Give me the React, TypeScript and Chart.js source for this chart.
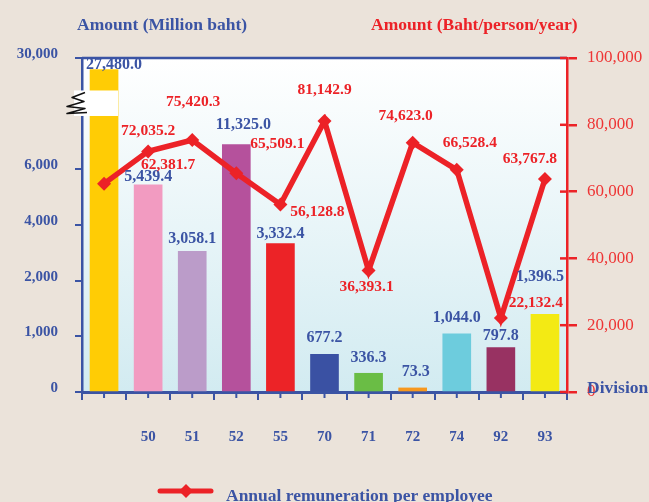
import React, { useEffect, useRef } from 'react';
import { Chart, registerables, LinearScale } from 'chart.js';

// ---------- data ----------
const CATEGORIES = ['', '50', '51', '52', '55', '70', '71', '72', '74', '92', '93'];
const AMOUNT_MILLION = [27480.0, 5439.4, 3058.1, 11325.0, 3332.4, 677.2, 336.3, 73.3, 1044.0, 797.8, 1396.5];
const REMUNERATION = [62381.7, 72035.2, 75420.3, 65509.1, 56128.8, 81142.9, 36393.1, 74623.0, 66528.4, 22132.4, 63767.8];
const LEFT_TICKS = [0, 1000, 2000, 4000, 6000, 30000];
const RIGHT_TICKS = [0, 20000, 40000, 60000, 80000, 100000];
const BREAK_RANGE = [17500, 23000];
const LEGEND_LABEL = 'Annual remuneration per employee';
const LEFT_TITLE = 'Amount (Million baht)';
const RIGHT_TITLE = 'Amount (Baht/person/year)';
const X_TITLE = 'Division';

// ---------- styles ----------
const BG = '#EBE3DA';
const BLUE = '#3B54A4';
const RED = '#EC2227';
const RED_TEXT = '#EE3535';
const FONT = "'Liberation Serif', 'Times New Roman', serif";
const BAR_COLORS = ['#FFCC05', '#F29BC1', '#BB9CC9', '#B5519C', '#EC2327', '#3A51A3', '#6ABD45', '#F7981F', '#6DCCDD', '#983262', '#F3EA14'];
// segment weights of the broken left axis (one per interval between LEFT_TICKS)
const SEGMENT_WEIGHTS = [1, 1, 1, 1, 2];
// label placement tweaks (pixels)
const BAR_LABEL_DX = [10, 0, 0, 7, 0, 0, 0, 3, 0, 0, -5];
const BAR_LABEL_GAP = [5, 8, 12, 20, 10, 16, 15, 16, 16, 12, 37];
const LINE_LABEL_OFF: [number, number][] = [
  [64, -19], [0, -20], [1, -38], [41, -29], [37, 7], [0, -31],
  [-2, 17], [-7, -27], [13, -27], [35, -15], [-15, -20],
];
const ZIGZAG: [number, number][] = [[3, 2], [-10, 7], [2, 11], [-15, 16], [3, 18], [-15, 23], [5, 22]];

class BrokenScale extends LinearScale {
  static id = 'broken';
  buildTicks() {
    (this as any).start = this.min;
    (this as any).end = this.max;
    return LEFT_TICKS.map((v) => ({ value: v }));
  }
  _frac(v: number) {
    const total = SEGMENT_WEIGHTS.reduce((a, b) => a + b, 0);
    let acc = 0;
    for (let i = 0; i < SEGMENT_WEIGHTS.length; i++) {
      const a = LEFT_TICKS[i], b = LEFT_TICKS[i + 1];
      if (v <= b || i === SEGMENT_WEIGHTS.length - 1) {
        return (acc + ((v - a) / (b - a)) * SEGMENT_WEIGHTS[i]) / total;
      }
      acc += SEGMENT_WEIGHTS[i];
    }
    return 1;
  }
  getPixelForValue(value: number) {
    if (value === null || value === undefined || isNaN(value as any)) return NaN;
    return this.getPixelForDecimal(this._frac(value));
  }
  getValueForPixel(pixel: number) {
    const d = this.getDecimalForPixel(pixel);
    const total = SEGMENT_WEIGHTS.reduce((a, b) => a + b, 0);
    let acc = 0;
    for (let i = 0; i < SEGMENT_WEIGHTS.length; i++) {
      const w = SEGMENT_WEIGHTS[i] / total;
      if (d <= acc + w || i === SEGMENT_WEIGHTS.length - 1) {
        return LEFT_TICKS[i] + ((d - acc) / w) * (LEFT_TICKS[i + 1] - LEFT_TICKS[i]);
      }
      acc += w;
    }
    return this.max;
  }
}

Chart.register(...registerables, BrokenScale);

const fmt = (v: any) => Number(v).toLocaleString('en-US');

const decor = {
  id: 'decor',
  beforeDraw(chart: any) {
    const { ctx, chartArea: a, width, height } = chart;
    ctx.save();
    ctx.fillStyle = BG;
    ctx.fillRect(0, 0, width, height);
    const g = ctx.createLinearGradient(0, a.top, 0, a.bottom);
    g.addColorStop(0, '#FFFFFF');
    g.addColorStop(1, '#D2EBF1');
    ctx.fillStyle = g;
    ctx.fillRect(a.left, a.top, a.right - a.left, a.bottom - a.top);
    ctx.restore();
  },
  afterDatasetDraw(chart: any, args: any) {
    if (args.index !== 0) return;
    const { ctx, chartArea: a } = chart;
    const y = chart.scales.y;
    const bar = chart.getDatasetMeta(0).data[0];
    const yTop = y.getPixelForValue(BREAK_RANGE[1]);
    const yBot = y.getPixelForValue(BREAK_RANGE[0]);
    ctx.save();
    ctx.fillStyle = '#FFFFFF';
    const x0 = a.left - 8;
    ctx.fillRect(x0, yTop, bar.x + bar.width / 2 - x0, yBot - yTop);
    ctx.strokeStyle = '#111111';
    ctx.lineWidth = 1.5;
    ctx.lineJoin = 'round';
    ctx.beginPath();
    ZIGZAG.forEach(([dx, dy], i) => {
      const px = a.left + dx, py = yTop + dy;
      if (i === 0) ctx.moveTo(px, py); else ctx.lineTo(px, py);
    });
    ctx.stroke();
    ctx.restore();
  },
  afterDraw(chart: any) {
    const { ctx, chartArea: a } = chart;
    const xs = chart.scales.x;
    const y1 = chart.scales.y1;
    ctx.save();
    // top border
    ctx.strokeStyle = BLUE;
    ctx.lineWidth = 2.5;
    ctx.beginPath();
    ctx.moveTo(a.left, a.top);
    ctx.lineTo(a.right, a.top);
    ctx.stroke();
    // category centre ticks
    ctx.lineWidth = 2;
    CATEGORIES.forEach((_, i) => {
      const px = xs.getPixelForValue(i);
      ctx.beginPath();
      ctx.moveTo(px, a.bottom);
      ctx.lineTo(px, a.bottom + 6);
      ctx.stroke();
    });
    // inner part of right ticks
    ctx.strokeStyle = RED;
    ctx.lineWidth = 2.5;
    y1.ticks.forEach((t: any) => {
      const py = y1.getPixelForValue(t.value);
      ctx.beginPath();
      ctx.moveTo(a.right - 7, py);
      ctx.lineTo(a.right, py);
      ctx.stroke();
    });
    // bar labels
    ctx.textAlign = 'center';
    ctx.textBaseline = 'middle';
    ctx.font = `bold 16px ${FONT}`;
    ctx.fillStyle = BLUE;
    chart.getDatasetMeta(0).data.forEach((el: any, i: number) => {
      ctx.fillText(AMOUNT_MILLION[i].toLocaleString('en-US', { minimumFractionDigits: 1, maximumFractionDigits: 1 }), el.x + BAR_LABEL_DX[i], el.y - BAR_LABEL_GAP[i]);
    });
    // line labels
    ctx.font = `bold 15.5px ${FONT}`;
    ctx.fillStyle = RED;
    chart.getDatasetMeta(1).data.forEach((el: any, i: number) => {
      const [dx, dy] = LINE_LABEL_OFF[i];
      ctx.fillText(REMUNERATION[i].toLocaleString('en-US', { minimumFractionDigits: 1, maximumFractionDigits: 1 }), el.x + dx, el.y + dy);
    });
    // titles
    ctx.textAlign = 'left';
    ctx.font = `bold 17.5px ${FONT}`;
    ctx.fillStyle = BLUE;
    ctx.fillText(LEFT_TITLE, 77, 25);
    ctx.fillStyle = RED;
    ctx.fillText(RIGHT_TITLE, 371, 25);
    ctx.fillStyle = BLUE;
    ctx.fillText(X_TITLE, a.right + 20, a.bottom - 4);
    // legend
    const ly = 491;
    ctx.strokeStyle = RED;
    ctx.lineWidth = 5;
    ctx.lineCap = 'round';
    ctx.beginPath();
    ctx.moveTo(160, ly);
    ctx.lineTo(211, ly);
    ctx.stroke();
    ctx.fillStyle = RED;
    ctx.beginPath();
    ctx.moveTo(186 - 7, ly);
    ctx.lineTo(186, ly - 7);
    ctx.lineTo(186 + 7, ly);
    ctx.lineTo(186, ly + 7);
    ctx.closePath();
    ctx.fill();
    ctx.fillStyle = BLUE;
    ctx.textBaseline = 'alphabetic';
    ctx.font = `bold 17.5px ${FONT}`;
    ctx.fillText(LEGEND_LABEL, 226, 501);
    ctx.restore();
  },
};

export default function App() {
  const ref = useRef<HTMLCanvasElement>(null);
  useEffect(() => {
    document.body.style.margin = '0';
    const chart = new Chart(ref.current as HTMLCanvasElement, {
      type: 'bar',
      data: {
        labels: CATEGORIES,
        datasets: [
          {
            type: 'bar',
            label: 'Amount',
            data: AMOUNT_MILLION,
            backgroundColor: BAR_COLORS,
            yAxisID: 'y',
            barThickness: 28,
            order: 2,
          } as any,
          {
            type: 'line',
            label: LEGEND_LABEL,
            data: REMUNERATION,
            yAxisID: 'y1',
            borderColor: RED,
            backgroundColor: RED,
            borderWidth: 5.5,
            pointStyle: 'rectRot',
            pointRadius: 7,
            pointBorderWidth: 0,
            pointBackgroundColor: RED,
            tension: 0,
            order: 1,
            clip: false,
          } as any,
        ],
      },
      options: {
        animation: false,
        responsive: false,
        devicePixelRatio: 1,
        events: [],
        layout: { padding: { top: 58, left: 0, right: 0, bottom: 0 } },
        plugins: { legend: { display: false }, tooltip: { enabled: false } },
        scales: {
          x: {
            type: 'category',
            offset: true,
            grid: { display: true, offset: true, drawOnChartArea: false, drawTicks: true, tickLength: 8, color: BLUE, lineWidth: 2 },
            border: { display: true, color: BLUE, width: 3 },
            ticks: { padding: 28, color: BLUE, font: { family: FONT, size: 15, weight: 'bold' }, autoSkip: false, maxRotation: 0 },
            afterFit: (s: any) => { s.height = 110; },
          },
          y: {
            type: 'broken',
            position: 'left',
            min: 0,
            max: 30000,
            grid: { display: true, drawOnChartArea: false, drawTicks: true, tickLength: 7, color: BLUE, lineWidth: 2 },
            border: { display: true, color: BLUE, width: 2.5 },
            ticks: { padding: 17, labelOffset: -4, color: BLUE, font: { family: FONT, size: 15, weight: 'bold' }, autoSkip: false, callback: fmt },
            afterFit: (s: any) => { s.width = 82; },
          } as any,
          y1: {
            type: 'linear',
            position: 'right',
            min: RIGHT_TICKS[0],
            max: RIGHT_TICKS[RIGHT_TICKS.length - 1],
            afterBuildTicks: (s: any) => { s.ticks = RIGHT_TICKS.map((v) => ({ value: v })); },
            grid: { display: true, drawOnChartArea: false, drawTicks: true, tickLength: 10, color: RED, lineWidth: 2.5 },
            border: { display: true, color: RED, width: 2.5 },
            ticks: { padding: 10, color: RED_TEXT, font: { family: FONT, size: 17 }, autoSkip: false, callback: fmt },
            afterFit: (s: any) => { s.width = 82; },
          },
        },
      } as any,
      plugins: [decor],
    });
    return () => chart.destroy();
  }, []);
  return (
    <div style={{ width: 649, height: 502, background: BG }}>
      <canvas ref={ref} width={649} height={502} style={{ display: 'block' }} />
    </div>
  );
}
